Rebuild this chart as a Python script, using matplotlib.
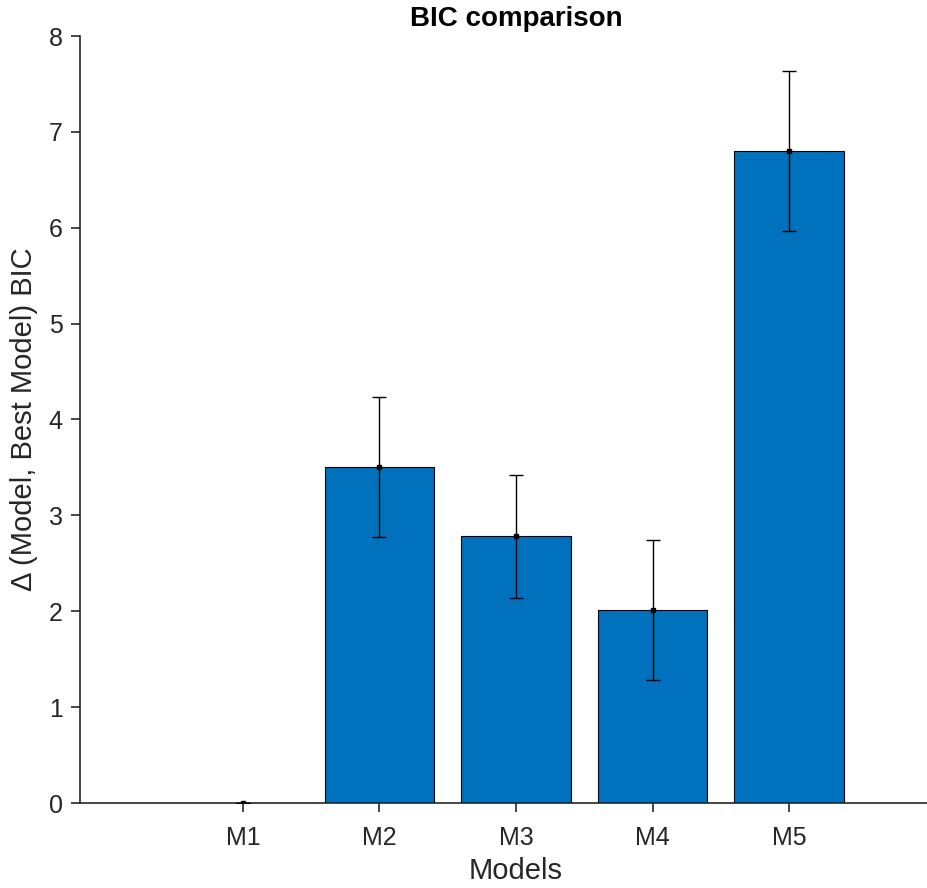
import matplotlib.pyplot as plt
import numpy as np

plt.rcParams["font.family"] = ["Liberation Sans", "DejaVu Sans"]

models = ["M1", "M2", "M3", "M4", "M5"]
delta_bic = [0.0, 3.50, 2.78, 2.01, 6.80]
bic_err = [0.0, 0.73, 0.64, 0.73, 0.83]

BAR_COLOR = "#0072BD"
AX_COLOR = "#262626"

# axes runs a little past the right edge of the figure (cropped like the original)
fig = plt.figure(figsize=(9.27, 8.88), dpi=100)
ax = fig.add_axes([80 / 927, 85 / 888, 872 / 927, 767 / 888])

x = np.arange(1, len(models) + 1)
ax.bar(x, delta_bic, width=0.8, color=BAR_COLOR, edgecolor="black", linewidth=0.8, zorder=2)
ax.errorbar(x, delta_bic, yerr=bic_err, fmt="s", ms=3, color="black", ecolor="black",
            elinewidth=1.0, capsize=5, capthick=1.0, zorder=3)

ax.set_xlim(-0.194, 6.194)
ax.set_ylim(0, 8)
ax.set_xticks(x)
ax.set_xticklabels(models)
ax.set_yticks(range(0, 9))

for side in ["top", "right"]:
    ax.spines[side].set_visible(False)
for side in ["left", "bottom"]:
    ax.spines[side].set_color(AX_COLOR)
    ax.spines[side].set_linewidth(1.2)
ax.tick_params(direction="out", length=6.5, width=1.2, color=AX_COLOR,
               labelcolor=AX_COLOR, labelsize=18)
ax.tick_params(axis="x", pad=10)
ax.tick_params(axis="y", pad=6)

ax.set_xlabel("Models", fontsize=21, color=AX_COLOR, labelpad=5)
ax.set_ylabel("\u0394 (Model, Best Model) BIC", fontsize=21, color=AX_COLOR, labelpad=8)
ax.set_title("BIC comparison", fontsize=20, fontweight="bold", color="black", pad=7)

fig.savefig("out.png", dpi=100)
